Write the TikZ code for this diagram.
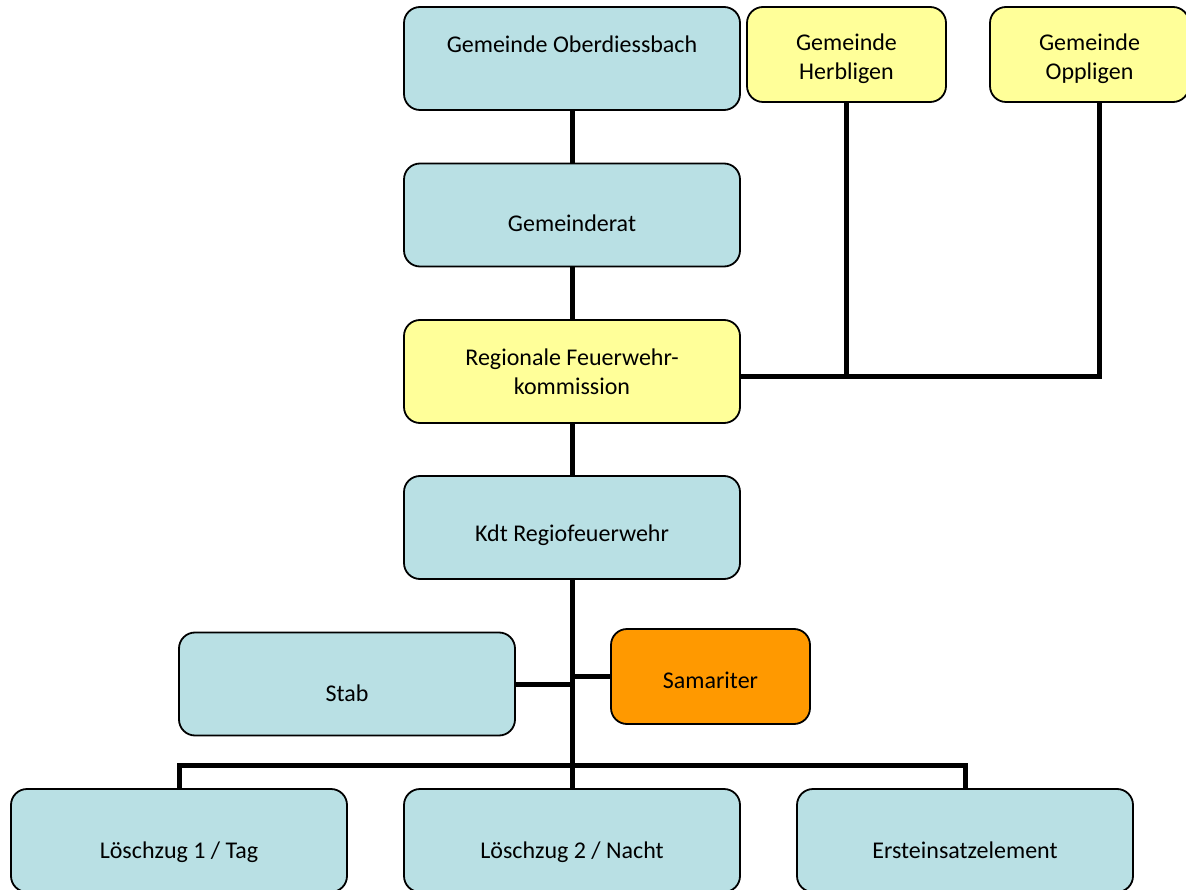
\documentclass[tikz,border=0pt]{standalone}
\usepackage{fontspec}
\setmainfont{Carlito}
\usetikzlibrary{positioning,calc}
\definecolor{boxblue}{RGB}{185,224,228}
\definecolor{boxyellow}{RGB}{255,255,153}
\definecolor{boxorange}{RGB}{255,153,0}
\newcommand{\topgap}{\rule{0pt}{25pt}}
\tikzset{
  orgbox/.style={draw, line width=1.8pt, rounded corners=16pt, minimum width=336pt, minimum height=103pt, inner sep=0pt, align=center, font=\fontsize{24}{29}\selectfont},
  bluebox/.style={orgbox, fill=boxblue},
  yellowbox/.style={orgbox, fill=boxyellow},
  smallbox/.style={minimum width=199pt, minimum height=95pt},
  low/.style={text height=#1, text depth=0pt},
  conn/.style={line width=5pt}
}

\begin{document}
\begin{tikzpicture}[x=1pt, y=-1pt]
        \useasboundingbox (0,0) rectangle (1186,890);

        % Top row: Gemeinden
        \node[bluebox] (ober) at (572,58.5) {Gemeinde Oberdiessbach\\\mbox{}};
        \node[yellowbox, smallbox] (herb) at (846.5,54.5) {\topgap Gemeinde\\Herbligen};
        \node[yellowbox, smallbox] (opp) at (1089.5,54.5) {\topgap Gemeinde\\Oppligen};

        % Middle column
        \node[bluebox, low=33pt] (rat) at (572,215) {Gemeinderat};
        \node[yellowbox] (kom) at (572,371.5) {Regionale Feuerwehr-\\kommission};
        \node[bluebox, low=27pt] (kdt) at (572,527.5) {Kdt Regiofeuerwehr};

        % Side units
        \node[bluebox, low=34pt] (stab) at (347,684) {Stab};
        \node[orgbox, smallbox, fill=boxorange, low=23pt] (sam) at (710.5,676.5) {Samariter};

        % Bottom row
        \node[bluebox, low=35pt] (lz1) at (179,840.5) {Löschzug 1 / Tag};
        \node[bluebox, low=35pt] (lz2) at (572,840.5) {Löschzug 2 / Nacht};
        \node[bluebox, low=35pt] (ers) at (965,840.5) {Ersteinsatzelement};

        % Connections
        \draw[conn] (ober) -- (rat);
        \draw[conn] (rat) -- (kom);
        \draw[conn] (kom) -- (kdt);
        \draw[conn] (kdt) -- (lz2);

        % Herbligen and Oppligen to commission
        \coordinate (kj) at ([yshift=-5.5pt]kom.east);
        \draw[conn] (herb.south) -- (herb.south |- kj);
        \draw[conn] (kj) -| ([xshift=10pt]opp.south);

        % Stab and Samariter on the trunk
        \draw[conn] (stab.east) -- (stab.east -| kdt.south);
        \draw[conn] (sam.west) -- (sam.west -| kdt.south);

        % Bar over the Loeschzuege
        \coordinate (bar) at (572,765);
        \draw[conn] (lz1.north) |- (bar) -| (ers.north);

    \end{tikzpicture}
\end{document}
